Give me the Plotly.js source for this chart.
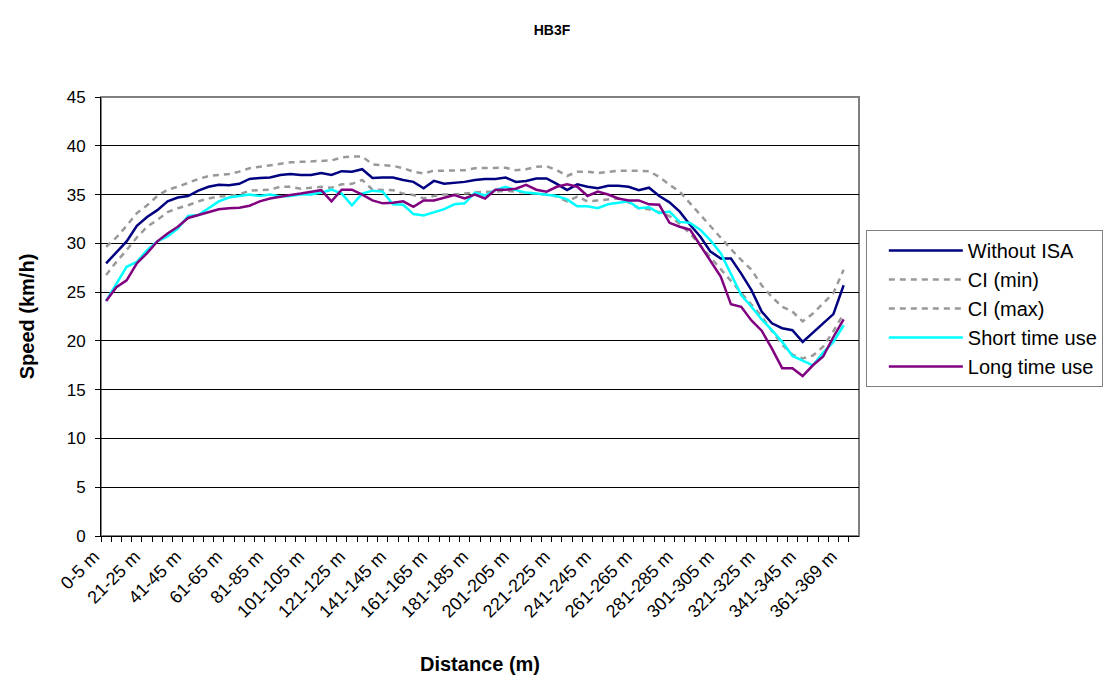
<!DOCTYPE html>
<html>
<head>
<meta charset="utf-8">
<script src="https://cdn.plot.ly/plotly-3.0.1.min.js"></script>
<style>
html,body{margin:0;padding:0;background:#fff;}
#chart{width:1104px;height:675px;}
</style>
</head>
<body>
<div id="chart"></div>
<script>
var categories = ["0-5 m","6-10 m","11-15 m","16-20 m","21-25 m","26-30 m","31-35 m","36-40 m","41-45 m","46-50 m",
"51-55 m","56-60 m","61-65 m","66-70 m","71-75 m","76-80 m","81-85 m","86-90 m","91-95 m","96-100 m",
"101-105 m","106-110 m","111-115 m","116-120 m","121-125 m","126-130 m","131-135 m","136-140 m","141-145 m","146-150 m",
"151-155 m","156-160 m","161-165 m","166-170 m","171-175 m","176-180 m","181-185 m","186-190 m","191-195 m","196-200 m",
"201-205 m","206-210 m","211-215 m","216-220 m","221-225 m","226-230 m","231-235 m","236-240 m","241-245 m","246-250 m",
"251-255 m","256-260 m","261-265 m","266-270 m","271-275 m","276-280 m","281-285 m","286-290 m","291-295 m","296-300 m",
"301-305 m","306-310 m","311-315 m","316-320 m","321-325 m","326-330 m","331-335 m","336-340 m","341-345 m","346-350 m",
"351-355 m","356-360 m","361-369 m"];

var withoutISA = [27.95,29.1,30.2,31.8,32.7,33.4,34.3,34.7,34.85,35.4,
35.8,36.0,35.95,36.1,36.6,36.7,36.75,37.0,37.1,37.0,
37.0,37.2,37.0,37.4,37.35,37.6,36.7,36.75,36.75,36.5,
36.3,35.65,36.4,36.1,36.2,36.3,36.5,36.6,36.6,36.75,
36.3,36.4,36.65,36.65,36.1,35.45,36.05,35.8,35.65,35.9,
35.9,35.8,35.45,35.7,34.85,34.2,33.25,31.9,30.7,29.15,
28.45,28.45,26.9,25.2,23.0,21.8,21.3,21.1,19.9,20.8,
21.8,22.75,25.7];

var ciMin = [26.75,28.1,29.3,30.6,31.7,32.4,33.2,33.6,33.9,34.3,
34.6,34.8,34.85,35.0,35.4,35.45,35.5,35.8,35.8,35.6,
35.7,35.8,35.7,36.05,36.1,36.5,35.5,35.45,35.45,35.1,
34.95,34.6,34.85,35.0,35.0,35.1,35.2,35.3,35.3,35.4,
35.3,35.2,35.1,35.0,34.8,34.3,34.8,34.3,34.4,34.5,
34.6,34.2,33.6,33.5,33.2,32.8,32.0,31.0,29.8,28.5,
27.3,26.2,25.0,23.8,22.5,21.0,19.6,18.6,18.2,18.5,
19.4,21.0,22.8];

var ciMax = [29.65,30.6,31.8,33.1,33.9,34.85,35.5,35.8,36.2,36.6,
36.9,37.0,37.1,37.35,37.7,37.85,38.0,38.2,38.3,38.35,
38.4,38.5,38.5,38.8,38.9,38.9,38.1,38.0,37.95,37.7,
37.35,37.15,37.45,37.45,37.45,37.5,37.7,37.7,37.7,37.75,
37.5,37.6,37.85,37.9,37.5,36.9,37.35,37.35,37.2,37.35,
37.45,37.45,37.45,37.4,36.8,36.0,35.3,34.1,32.9,31.7,
30.5,29.4,28.3,27.3,25.7,24.5,23.5,23.0,22.0,22.8,
23.85,24.9,27.3];

var shortTimeUse = [24.1,25.9,27.6,28.1,29.3,30.2,30.7,31.5,32.8,32.9,
33.6,34.3,34.7,34.85,35.0,34.85,35.0,34.8,34.85,35.0,
35.0,35.2,35.5,35.1,33.9,35.1,35.4,35.3,34.0,33.95,
33.0,32.85,33.15,33.5,34.0,34.1,35.2,34.9,35.45,35.8,
35.45,35.2,35.1,35.0,34.85,34.5,33.8,33.8,33.6,34.0,
34.15,34.3,33.6,33.7,33.1,33.25,32.2,32.1,31.4,30.3,
29.0,26.9,24.7,23.5,22.2,21.1,19.9,18.45,18.0,17.5,
18.8,19.9,21.6];

var longTimeUse = [24.1,25.5,26.2,27.95,29.0,30.2,31.0,31.7,32.6,32.9,
33.25,33.5,33.6,33.65,33.85,34.3,34.6,34.8,34.95,35.1,
35.3,35.45,34.3,35.5,35.5,35.0,34.4,34.1,34.15,34.3,
33.75,34.4,34.4,34.7,34.95,34.6,35.0,34.6,35.5,35.5,
35.6,36.0,35.5,35.3,35.8,36.05,35.8,34.85,35.3,35.0,
34.6,34.4,34.4,34.0,33.95,32.1,31.7,31.4,29.8,28.1,
26.6,23.75,23.5,22.1,21.05,19.2,17.2,17.2,16.4,17.5,
18.4,20.4,22.2];

var seriesNames = ["Without ISA","CI (min)","CI (max)","Short time use","Long time use"];
var yTickVals = [0,5,10,15,20,25,30,35,40,45];

var tickText = categories.map(function(c,i){ return (i % 4 === 0) ? c : ""; });

function trace(y, name, color, dash){
  return {
    type: "scatter", mode: "lines", x: categories, y: y, name: name,
    line: {color: color, width: 2.5, dash: dash || "solid"},
    hoverinfo: "x+y+name"
  };
}

var data = [
  trace(withoutISA, seriesNames[0], "#000080"),
  trace(ciMin, seriesNames[1], "#999999", "6px,5px"),
  trace(ciMax, seriesNames[2], "#999999", "6px,5px"),
  trace(shortTimeUse, seriesNames[3], "#00FFFF"),
  trace(longTimeUse, seriesNames[4], "#800080")
];

var layout = {
  width: 1104, height: 675,
  margin: {l: 101, r: 245, t: 97, b: 139, autoexpand: false},
  paper_bgcolor: "#ffffff", plot_bgcolor: "#ffffff",
  font: {family: "Liberation Sans, Arial, sans-serif", color: "#000000", size: 15},
  title: {text: "<b>HB3F</b>", x: 0.5, xref: "container", xanchor: "center", y: 0.955, yanchor: "middle", font: {size: 14}},
  showlegend: true,
  legend: {
    x: 1.009, xanchor: "left", y: 0.697, yanchor: "top",
    bordercolor: "#808080", borderwidth: 1, bgcolor: "#ffffff",
    font: {size: 20}, tracegroupgap: 0, itemwidth: 91
  },
  xaxis: {
    type: "category",
    categoryorder: "array", categoryarray: categories,
    range: [-0.5, 73.5],
    tickmode: "array", tickvals: categories, ticktext: tickText,
    tickangle: -45, tickson: "boundaries",
    ticks: "outside", ticklen: 5, tickcolor: "#000000", tickwidth: 1,
    ticklabelshift: -12, ticklabelstandoff: 2,
    showline: true, linecolor: "#000000", linewidth: 1,
    showgrid: false, zeroline: false,
    tickfont: {size: 18},
    title: {text: "<b>Distance (m)</b>", font: {size: 20}, standoff: 36},
    automargin: false
  },
  yaxis: {
    range: [0, 45],
    tickmode: "array", tickvals: yTickVals,
    ticks: "outside", ticklen: 5, tickcolor: "#000000", tickwidth: 1,
    ticklabelstandoff: 6,
    showline: true, linecolor: "#000000", linewidth: 1,
    showgrid: true, gridcolor: "#000000", gridwidth: 1,
    zeroline: false,
    tickfont: {size: 17},
    title: {text: "<b>Speed (km/h)</b>", font: {size: 20}, standoff: 26},
    automargin: false
  },
  shapes: [
    {type: "rect", xref: "paper", yref: "paper", x0: 0, x1: 1, y0: 0, y1: 1,
     line: {color: "#808080", width: 2}, fillcolor: "rgba(0,0,0,0)", layer: "below"}
  ]
};

Plotly.newPlot("chart", data, layout, {displayModeBar: false, responsive: false}).then(function(gd){
  var paths = gd.querySelectorAll(".legend .legendlines path");
  paths.forEach(function(p){ p.setAttribute("d", "M22,0h74"); });
});
</script>
</body>
</html>
